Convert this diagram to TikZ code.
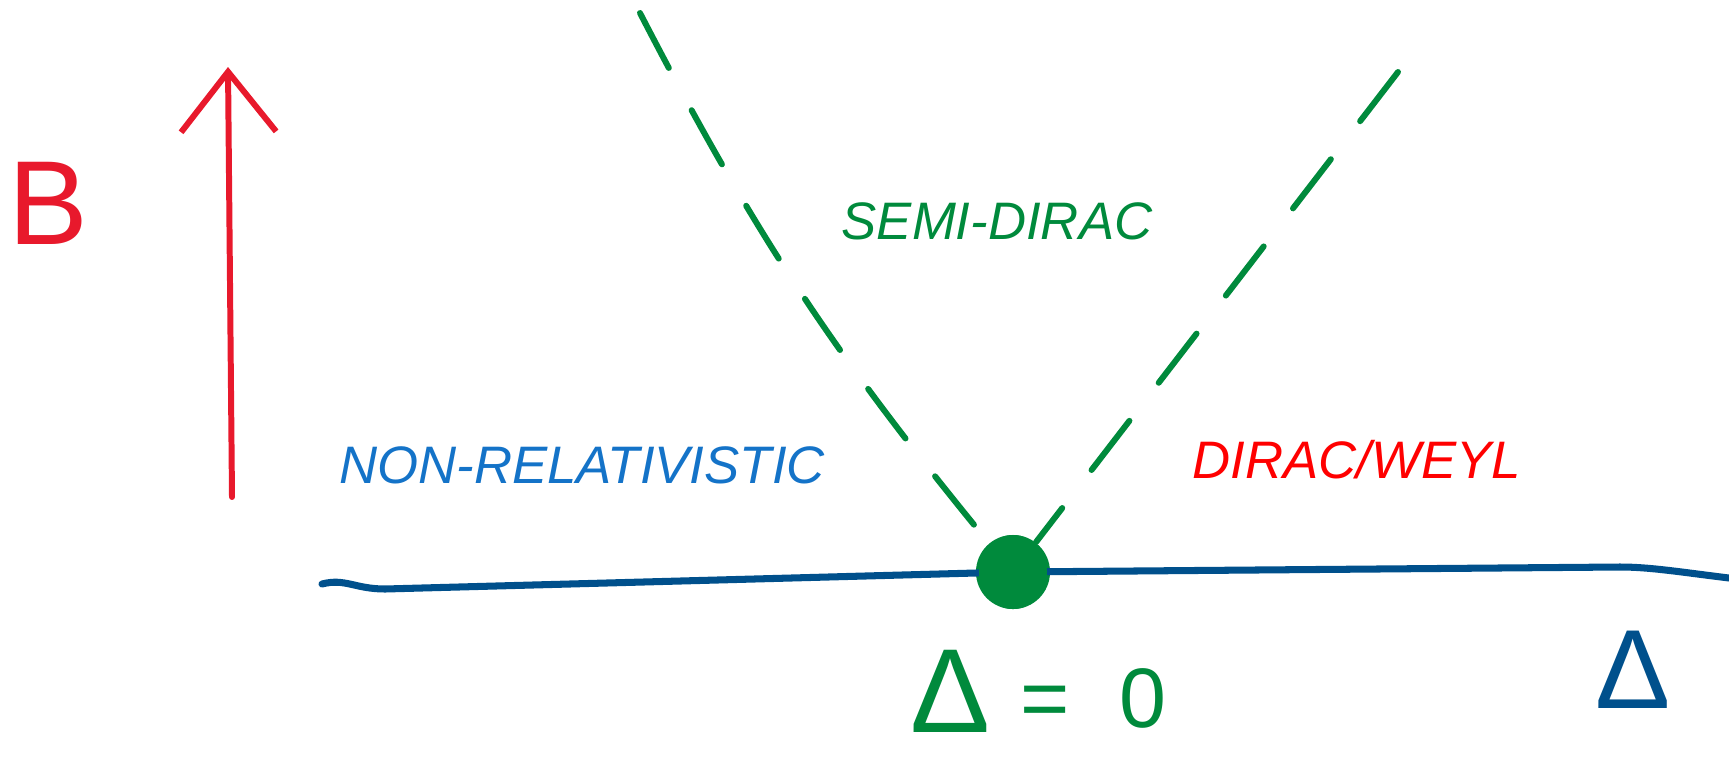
\documentclass[tikz,border=0pt]{standalone}
\usepackage{fontspec}
\setmainfont{Liberation Sans}
\usetikzlibrary{arrows.meta, calc}
\definecolor{phgreen}{RGB}{0,138,60}
\definecolor{phred}{RGB}{232,25,44}
\definecolor{phblue}{RGB}{0,80,140}
\definecolor{txtblue}{RGB}{20,115,200}
\tikzset{
  lbl/.style={font=\fontsize{15}{15}\selectfont\itshape, inner sep=0pt},
  regime/.style={lbl, text=phgreen},
  axisline/.style={draw=phblue, line width=2pt, line cap=round},
  fieldarr/.style={draw=phred, line width=1.7pt, line cap=round, -{Straight Barb[length=6mm,width=9.5mm,line width=1.7pt]}},
  border/.style={draw=phgreen, line width=1.7pt, line cap=round, dash pattern=on 6.2mm off 4.8mm},
  crit/.style={circle, fill=phgreen, minimum width=0.68cm, minimum height=0.74cm, inner sep=0pt}
}
\begin{document}
\begin{tikzpicture}[x=0.01cm, y=-0.01cm]
\useasboundingbox (0,0) rectangle (1729,757);
\coordinate (b0) at (232,497);
\coordinate (b1) at (228,67);
\coordinate (h0) at (322,584);
\coordinate (h1) at (1729,578);
\coordinate (sl) at (640,13);
\coordinate (sr) at (1398,72);
\node[crit] (qcp) at (1013,572) {};
\node[font=\fontsize{34}{34}\selectfont, text=phred, inner sep=0pt] (bfield) at (48,203) {B};
\node[regime] (semi) at (997,221) {SEMI-DIRAC};
\node[lbl, text=txtblue] (nonrel) at (582,465) {NON-RELATIVISTIC};
\node[lbl, text=red] (dirac) at (1357,460) {DIRAC/WEYL};
\node[font=\fontsize{32}{32}\selectfont, text=phblue, inner sep=0pt] (delta) at (1633,670) {Δ};
\node[anchor=base west, text=phgreen, inner sep=0pt] (gap) at (910,732)
  {\fontsize{34}{34}\selectfont Δ\hspace{3mm}\fontsize{24}{24}\selectfont\raisebox{0.5mm}{=}\hspace{5mm}\raisebox{0.5mm}{0}};
\draw[fieldarr] (b0) -- (b1);
\draw[axisline] (h0) .. controls (345,578) and (355,589) .. (385,589)
  -- (qcp.center) -- (1620,567) .. controls (1650,567) and (1680,572) .. (h1);
\fill[phgreen] (qcp) ellipse (0.34cm and 0.37cm);
\draw[border] (sl) to[bend right=6] (qcp);
\draw[border] (sr) -- (qcp);
\end{tikzpicture}
\end{document}
